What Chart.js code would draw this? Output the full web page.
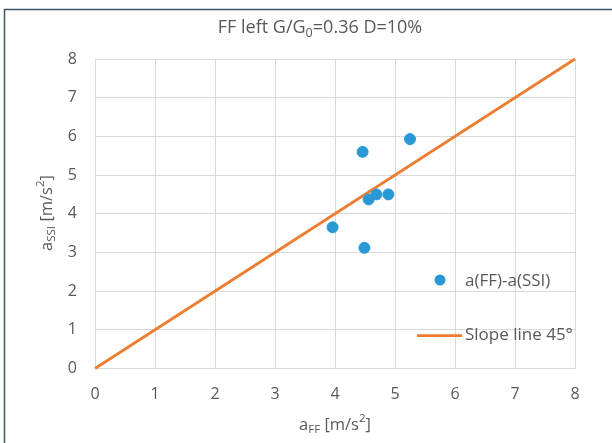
<!DOCTYPE html>
<html>
<head>
<meta charset="utf-8">
<script src="https://cdn.jsdelivr.net/npm/chart.js@4/dist/chart.umd.min.js"></script>
<style>
  body { margin: 0; background: #fff; }
  #wrap { width: 612px; height: 443px; position: relative; }
</style>
</head>
<body>
<div id="wrap"><canvas id="ffChart" width="612" height="443"></canvas></div>
<script>
// measured points a(FF) vs a(SSI)
var aFF  = [3.96, 4.46, 4.49, 4.56, 4.69, 4.89, 5.25];
var aSSI = [3.65, 5.60, 3.12, 4.37, 4.50, 4.50, 5.93];
// 45 degree reference line
var slopeX = [0, 8];
var slopeY = [0, 8];
var axisTicks = [0, 1, 2, 3, 4, 5, 6, 7, 8];

var txtColor = "#595959";
var fontName = "'Open Sans', sans-serif";

var points = aFF.map(function (v, i) { return { x: v, y: aSSI[i] }; });
var line = slopeX.map(function (v, i) { return { x: v, y: slopeY[i] }; });

// draws a string made of pieces, some lowered (sub) or raised (sup)
function drawRich(ctx, parts, x, y, size, align) {
  var w = 0;
  parts.forEach(function (p) {
    ctx.font = (p.s ? size * 0.7 : size) + "px " + fontName;
    w += ctx.measureText(p.t).width;
  });
  var cx = align === "center" ? x - w / 2 : x;
  parts.forEach(function (p) {
    var fs = p.s ? size * 0.7 : size;
    ctx.font = fs + "px " + fontName;
    var dy = p.s === "sub" ? size * 0.3 : (p.s === "sup" ? -size * 0.4 : 0);
    ctx.textAlign = "left";
    ctx.textBaseline = "middle";
    ctx.fillText(p.t, cx, y + dy);
    cx += ctx.measureText(p.t).width;
  });
}

var extras = {
  id: "extras",
  afterDraw: function (chart) {
    var ctx = chart.ctx;
    ctx.save();
    // outer frame
    ctx.strokeStyle = "#3e5466";
    ctx.lineWidth = 1.5;
    ctx.beginPath();
    ctx.moveTo(4.5, 443);
    ctx.lineTo(4.5, 9.5);
    ctx.lineTo(612, 9.5);
    ctx.stroke();

    ctx.fillStyle = txtColor;
    drawRich(ctx, [{ t: "FF left G/G" }, { t: "0", s: "sub" }, { t: "=0.36 D=10%" }], 320, 28, 18, "center");
    drawRich(ctx, [{ t: "a" }, { t: "FF", s: "sub" }, { t: " [m/s" }, { t: "2", s: "sup" }, { t: "]" }], 335, 425, 16.5, "center");

    ctx.save();
    ctx.translate(47, 213);
    ctx.rotate(-Math.PI / 2);
    drawRich(ctx, [{ t: "a" }, { t: "SSI", s: "sub" }, { t: " [m/s" }, { t: "2", s: "sup" }, { t: "]" }], 0, 0, 16.5, "center");
    ctx.restore();

    // legend
    ctx.fillStyle = "#2b98d6";
    ctx.beginPath();
    ctx.arc(440, 280, 5.5, 0, Math.PI * 2);
    ctx.fill();
    ctx.strokeStyle = "#ed7d31";
    ctx.lineWidth = 2.75;
    ctx.beginPath();
    ctx.moveTo(417, 335.5);
    ctx.lineTo(462, 335.5);
    ctx.stroke();
    ctx.fillStyle = txtColor;
    ctx.font = "17px " + fontName;
    ctx.textAlign = "left";
    ctx.textBaseline = "middle";
    ctx.fillText("a(FF)-a(SSI)", 465, 281);
    ctx.fillText("Slope line 45°", 465, 335);
    ctx.restore();
  }
};

new Chart("ffChart", {
  type: "scatter",
  data: {
    datasets: [
      {
        label: "a(FF)-a(SSI)",
        data: points,
        backgroundColor: "#2b98d6",
        borderColor: "#2b98d6",
        pointRadius: 5.5,
        pointHoverRadius: 5.5,
        order: 1
      },
      {
        label: "Slope line 45°",
        data: line,
        showLine: true,
        borderColor: "#ed7d31",
        borderWidth: 2.75,
        pointRadius: 0,
        clip: false,
        order: 2
      }
    ]
  },
  options: {
    responsive: false,
    animation: false,
    layout: { padding: { left: 0, top: 59, right: 37, bottom: 0 } },
    plugins: { legend: { display: false }, title: { display: false }, tooltip: { enabled: false } },
    scales: {
      x: {
        type: "linear", min: 0, max: 8,
        afterBuildTicks: function (s) { s.ticks = axisTicks.map(function (v) { return { value: v }; }); },
        afterFit: function (s) { s.height = 74.5; },
        grid: { color: "#d9d9d9", drawTicks: false },
        border: { color: "#d9d9d9" },
        ticks: { color: txtColor, padding: 16, font: { family: fontName, size: 16 } }
      },
      y: {
        type: "linear", min: 0, max: 8,
        afterBuildTicks: function (s) { s.ticks = axisTicks.map(function (v) { return { value: v }; }); },
        afterFit: function (s) { s.width = 95; },
        grid: { color: "#d9d9d9", drawTicks: false },
        border: { color: "#d9d9d9" },
        ticks: { color: txtColor, padding: 18, font: { family: fontName, size: 16 } }
      }
    }
  },
  plugins: [extras]
});
</script>
</body>
</html>
